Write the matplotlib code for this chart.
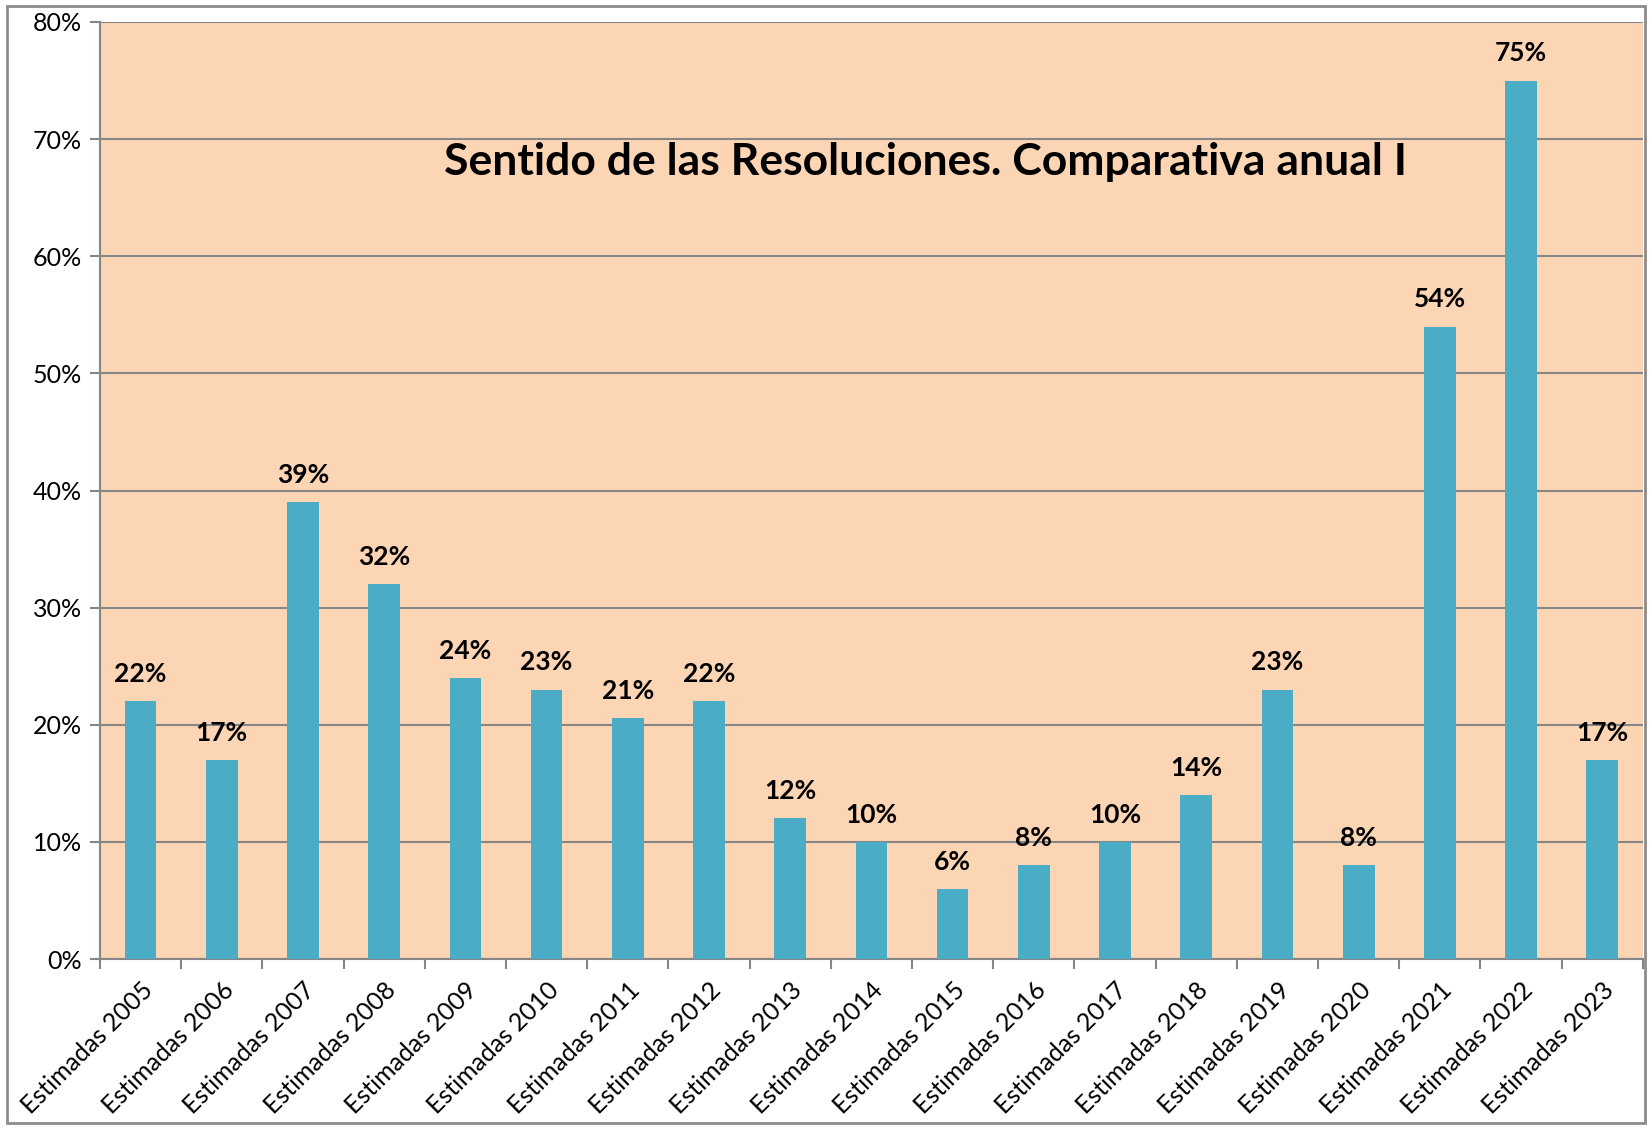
import numpy as np
import matplotlib.pyplot as plt
from matplotlib.patches import Rectangle
from matplotlib.ticker import FuncFormatter, MultipleLocator, FixedLocator

years = [2005, 2006, 2007, 2008, 2009, 2010, 2011, 2012, 2013, 2014,
         2015, 2016, 2017, 2018, 2019, 2020, 2021, 2022, 2023]
values = [22, 17, 39, 32, 24, 23, 20.6, 22, 12, 10,
          6, 8, 10, 14, 23, 8, 54, 75, 17]
labels = ["Estimadas %d" % y for y in years]
title = "Sentido de las Resoluciones. Comparativa anual I"

plt.rcParams['font.family'] = ['Lato', 'DejaVu Sans']

fig = plt.figure(figsize=(16.52, 11.28), dpi=100)
fig.patches.append(Rectangle((0.004, 0.004), 0.992, 0.991, transform=fig.transFigure,
                             fill=False, edgecolor="#8c8c8c", linewidth=2))
ax = fig.add_axes([0.0605, 0.1498, 0.934, 0.8307])
ax.set_facecolor("#FCD5B5")

x = np.arange(len(years))
bars = ax.bar(x, values, width=0.39, color="#4BACC6", zorder=3)
for xi, v in zip(x, values):
    ax.text(xi, v + 1.3, "%d%%" % round(v), ha="center", va="bottom",
            fontsize=19, fontweight="bold", zorder=4)

ax.set_xlim(-0.5, len(years) - 0.5)
ax.set_ylim(0, 80)
ax.yaxis.set_major_locator(MultipleLocator(10))
ax.yaxis.set_major_formatter(FuncFormatter(lambda v, p: "%d%%" % v))
ax.grid(axis="y", color="#868686", linewidth=1.5, zorder=1)

ax.set_xticks(x)
ax.set_xticklabels(labels, rotation=45, ha="right", rotation_mode="anchor", fontsize=18)
ax.xaxis.set_minor_locator(FixedLocator(np.arange(-0.5, len(years), 1)))
ax.tick_params(axis="x", which="major", length=0, pad=14)
ax.tick_params(axis="x", which="minor", length=7, width=1.5, color="#868686")
ax.tick_params(axis="y", length=7, width=1.5, color="#868686", labelsize=18, pad=6)

for side in ["top", "right"]:
    ax.spines[side].set_visible(False)
for side in ["left", "bottom"]:
    ax.spines[side].set_color("#868686")
    ax.spines[side].set_linewidth(1.5)

ax.text(0.535, 0.851, title, transform=ax.transAxes, ha="center", va="center",
        fontsize=32, fontweight="bold")

fig.savefig("out.png", dpi=100)
